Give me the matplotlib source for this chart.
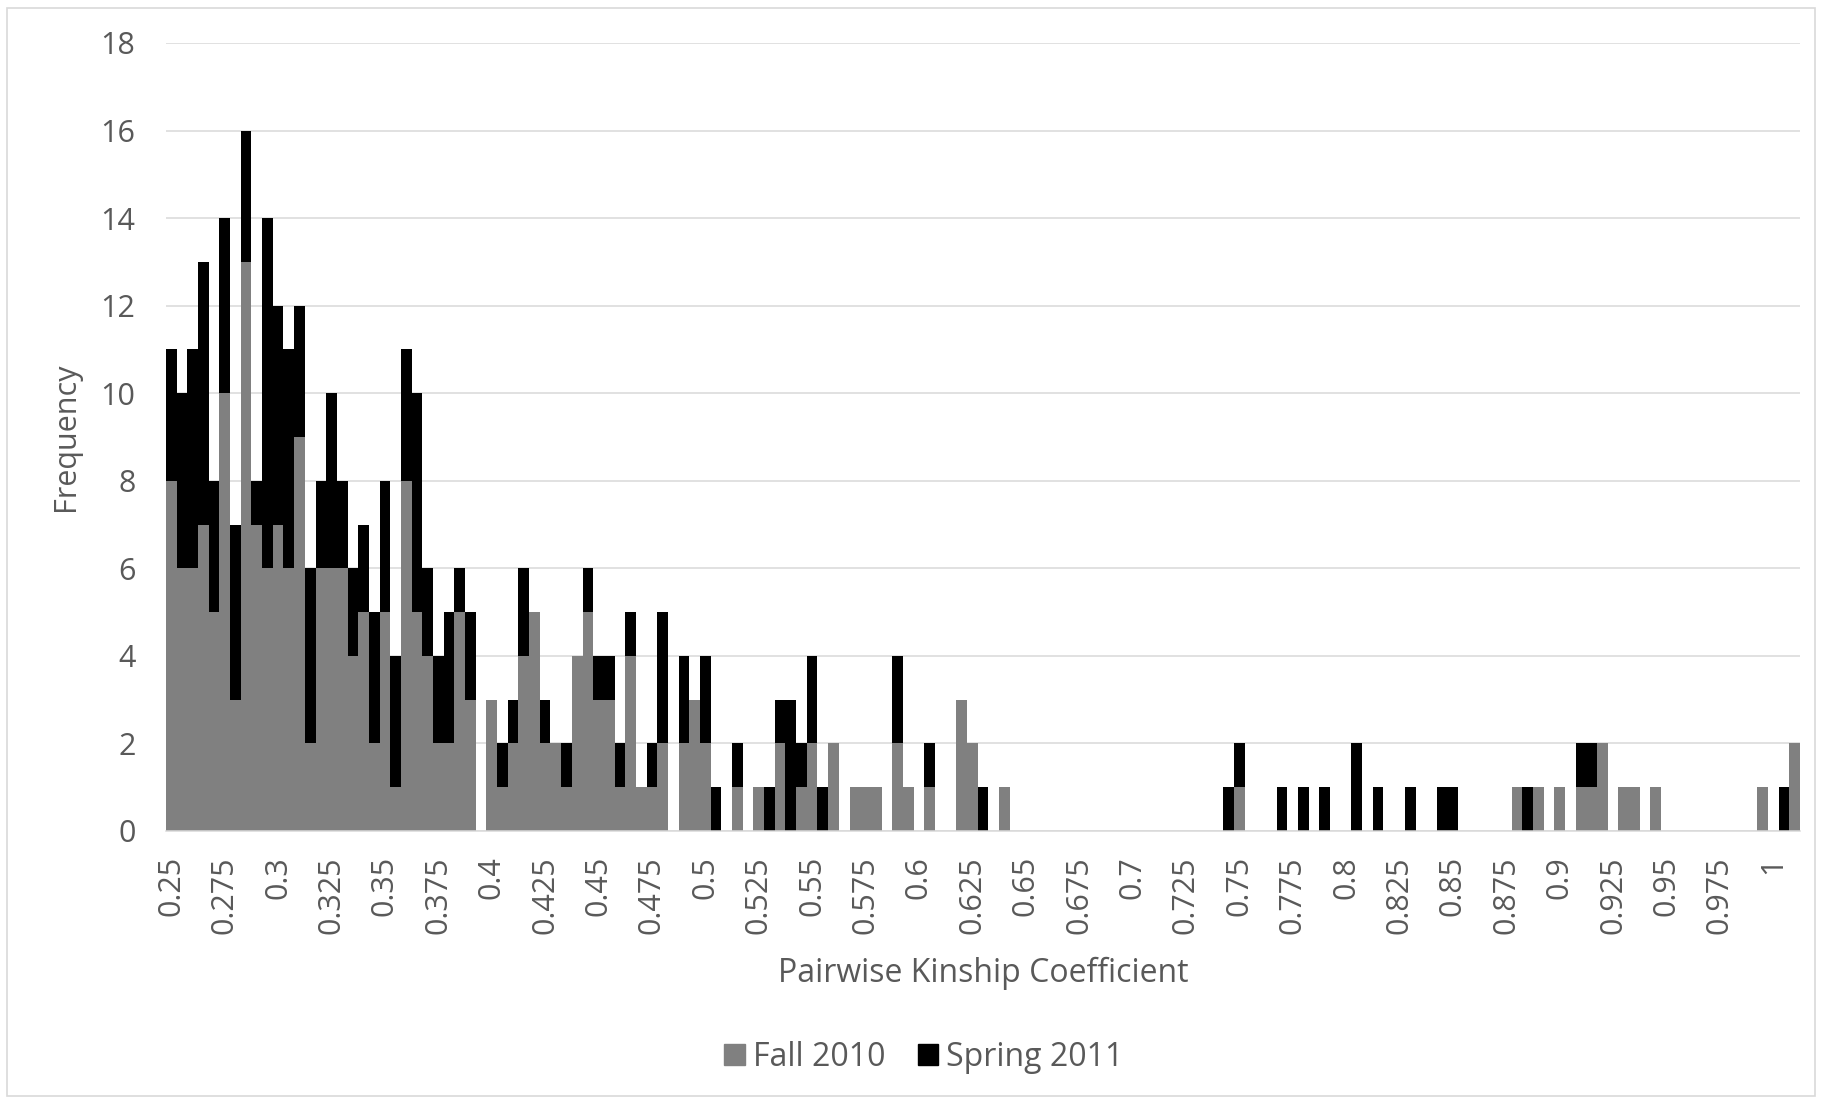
import matplotlib

matplotlib.use("Agg")
import matplotlib.pyplot as plt
import numpy as np
from matplotlib.patches import Patch, Rectangle

# kinship coefficient bins, 0.25 .. 1.01 in steps of 0.005
bin_start = 0.25
bin_step = 0.005
n_bins = 153

# counts per bin index (bins not listed are zero)
fall_2010 = {
    0: 8, 1: 6, 2: 6, 3: 7, 4: 5, 5: 10, 6: 3, 7: 13, 8: 7, 9: 6,
    10: 7, 11: 6, 12: 9, 13: 2, 14: 6, 15: 6, 16: 6, 17: 4, 18: 5, 19: 2,
    20: 5, 21: 1, 22: 8, 23: 5, 24: 4, 25: 2, 26: 2, 27: 5, 28: 3,
    30: 3, 31: 1, 32: 2, 33: 4, 34: 5, 35: 2, 36: 2, 37: 1, 38: 4, 39: 5,
    40: 3, 41: 3, 42: 1, 43: 4, 44: 1, 45: 1, 46: 2, 48: 2, 49: 3,
    50: 2, 53: 1, 55: 1, 57: 2, 59: 1, 60: 2, 62: 2, 64: 1, 65: 1, 66: 1,
    68: 2, 69: 1, 71: 1, 74: 3, 75: 2, 78: 1,
    100: 1, 126: 1, 128: 1, 130: 1, 132: 1, 133: 1, 134: 2, 136: 1,
    137: 1, 139: 1, 149: 1, 152: 2,
}
spring_2011 = {
    0: 3, 1: 4, 2: 5, 3: 6, 4: 3, 5: 4, 6: 4, 7: 3, 8: 1, 9: 8,
    10: 5, 11: 5, 12: 3, 13: 4, 14: 2, 15: 4, 16: 2, 17: 2, 18: 2, 19: 3,
    20: 3, 21: 3, 22: 3, 23: 5, 24: 2, 25: 2, 26: 3, 27: 1, 28: 2,
    31: 1, 32: 1, 33: 2, 35: 1, 37: 1, 39: 1, 40: 1, 41: 1, 42: 1, 43: 1,
    45: 1, 46: 3, 48: 2, 50: 2, 51: 1, 53: 1, 56: 1, 57: 1, 58: 3, 59: 1,
    60: 2, 61: 1, 68: 2, 71: 1, 76: 1,
    99: 1, 100: 1, 104: 1, 106: 1, 108: 1, 111: 2, 113: 1, 116: 1,
    119: 1, 120: 1, 127: 1, 132: 1, 133: 1, 151: 1,
}

fall = np.array([fall_2010.get(i, 0) for i in range(n_bins)], dtype=float)
spring = np.array([spring_2011.get(i, 0) for i in range(n_bins)], dtype=float)
x = np.arange(n_bins)

text_col = "#595959"
fs = 22
plt.rcParams["font.family"] = ["Open Sans", "DejaVu Sans"]

fig = plt.figure(figsize=(18.22, 11.0), dpi=100)
ax = fig.add_axes([166 / 1822, 1 - 831 / 1100, 1634 / 1822, 788 / 1100])

ax.bar(x, fall, width=1.0, color="#808080", linewidth=0, label="Fall 2010", zorder=2)
ax.bar(x, spring, width=1.0, bottom=fall, color="#000000", linewidth=0,
       label="Spring 2011", zorder=2)

ax.set_xlim(-0.5, n_bins - 0.5)
ax.set_ylim(0, 18)
ax.set_yticks(np.arange(0, 19, 2))
ax.grid(axis="y", color="#D9D9D9", linewidth=1.1, zorder=0)
ax.set_axisbelow(True)

# category labels every 5th bin, Excel style
tick_pos = list(range(0, n_bins, 5))
tick_lab = []
for i in tick_pos:
    v = round(bin_start + bin_step * i, 3)
    tick_lab.append(f"{v:.3f}".rstrip("0").rstrip("."))
ax.set_xticks(tick_pos)
ax.set_xticklabels(tick_lab, rotation=90)

for s in ["top", "right", "left"]:
    ax.spines[s].set_visible(False)
ax.spines["bottom"].set_color("#D9D9D9")
ax.spines["bottom"].set_linewidth(1.1)

ax.tick_params(axis="x", length=0, pad=18, labelsize=fs, labelcolor=text_col)
ax.tick_params(axis="y", length=0, pad=22, labelsize=fs, labelcolor=text_col)

fig.text(66 / 1822, 1 - 437 / 1100, "Frequency", rotation=90, ha="center",
         va="center", fontsize=fs, color=text_col)
fig.text(983 / 1822, 1 - 973 / 1100, "Pairwise Kinship Coefficient", ha="center",
         va="center", fontsize=23, color=text_col)

handles = [Patch(color="#808080", label="Fall 2010"),
           Patch(color="#000000", label="Spring 2011")]
fig.legend(handles=handles, loc="center", bbox_to_anchor=(924 / 1822, 1 - 1057 / 1100),
           ncol=2, frameon=False, fontsize=23, labelcolor=text_col,
           handlelength=0.65, handleheight=0.65, handletextpad=0.25, columnspacing=1.0)

# chart area border
fig.patches.append(Rectangle((7 / 1822, 4 / 1100), 1808 / 1822, 1088 / 1100,
                             transform=fig.transFigure, fill=False,
                             edgecolor="#D9D9D9", linewidth=1.2))

fig.savefig("out.png", dpi=100)
plt.close(fig)
